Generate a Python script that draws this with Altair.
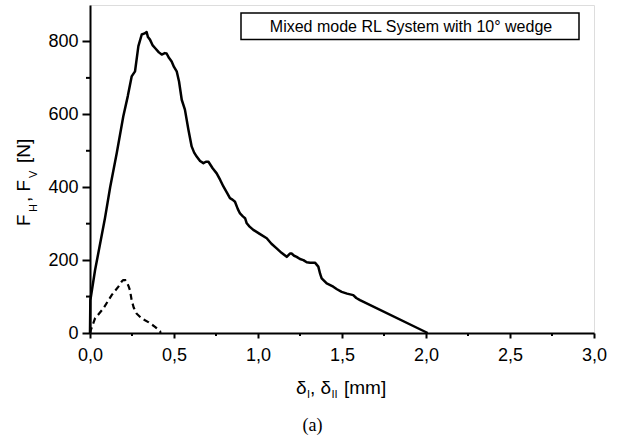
import altair as alt
import pandas as pd

# Solid curve (F_H)
solid_x = [0, 0.002, 0.03, 0.089, 0.12, 0.159, 0.198, 0.225, 0.248, 0.268, 0.288, 0.308, 0.325, 0.337,
           0.345, 0.357, 0.372, 0.387, 0.41, 0.427, 0.445, 0.456, 0.47, 0.486, 0.5, 0.516, 0.53, 0.546,
           0.565, 0.585, 0.605, 0.62, 0.635, 0.655, 0.675, 0.69, 0.705, 0.73, 0.754, 0.775, 0.794, 0.815,
           0.833, 0.848, 0.863, 0.88, 0.893, 0.91, 0.923, 0.933, 0.95, 0.972, 1.01, 1.052, 1.08, 1.111,
           1.14, 1.171, 1.19, 1.2, 1.215, 1.23, 1.25, 1.27, 1.29, 1.31, 1.339, 1.359, 1.37, 1.379, 1.409,
           1.448, 1.47, 1.498, 1.53, 1.567, 1.585, 1.607, 2.01]
solid_y = [0, 90, 172, 315, 400, 493, 594, 650, 704, 718, 787, 819, 822, 826,
           812, 805, 790, 782, 770, 764, 768, 767, 755, 745, 730, 718, 690, 640,
           613, 560, 512, 495, 484, 472, 466, 470, 470, 452, 438, 420, 402, 385,
           370, 366, 360, 340, 328, 320, 315, 301, 292, 283, 272, 260, 245, 232,
           220, 209, 218, 218, 212, 209, 203, 200, 194, 193, 193, 182, 162, 150, 136,
           127, 120, 113, 108, 104, 96, 90, 0]

# Dashed curve (F_V)
dash_x = [0, 0.004, 0.03, 0.079, 0.129, 0.169, 0.19, 0.198, 0.21, 0.218, 0.23, 0.238, 0.248, 0.26,
          0.278, 0.308, 0.347, 0.387, 0.417, 0.42]
dash_y = [0, 7, 40, 67, 104, 127, 142, 145, 145, 140, 128, 117, 90, 70,
          53, 40, 30, 17, 5, 0]

x_major = [0, 0.5, 1.0, 1.5, 2.0, 2.5, 3.0]
x_minor = [0.25, 0.75, 1.25, 1.75, 2.25, 2.75]
y_major = [0, 200, 400, 600, 800]
y_minor = [100, 300, 500, 700]

legend_text = "Mixed mode RL System with 10° wedge"

W, H = 504, 328
xs = alt.Scale(domain=[0, 3], nice=False, zero=False)
ys = alt.Scale(domain=[0, 900], nice=False)

solid_df = pd.DataFrame({"x": solid_x, "y": solid_y})
dash_df = pd.DataFrame({"x": dash_x, "y": dash_y})

x_axis = alt.Axis(values=x_major, labelExpr="replace(format(datum.value, '.1f'), '.', ',')",
                  title=None, grid=False, tickSize=5, labelPadding=8, labelFontSize=18,
                  labelFont="Liberation Sans", labelColor="black", domainColor="black",
                  domainWidth=2, tickColor="black", tickWidth=2, labelFlush=False)
y_axis = alt.Axis(values=y_major, title=None, grid=False, tickSize=8, labelPadding=4,
                  labelFontSize=18, labelFont="Liberation Sans", labelColor="black",
                  domainColor="black", domainWidth=2, tickColor="black", tickWidth=2,
                  labelFlush=False)

solid = alt.Chart(solid_df).mark_line(color="black", strokeWidth=2.5, strokeJoin="round").encode(
    x=alt.X("x:Q", scale=xs, axis=x_axis),
    y=alt.Y("y:Q", scale=ys, axis=y_axis),
)
dashed = alt.Chart(dash_df).mark_line(color="black", strokeWidth=2.2, strokeDash=[6, 4]).encode(
    x=alt.X("x:Q", scale=xs),
    y=alt.Y("y:Q", scale=ys),
)

xminor = alt.Chart(pd.DataFrame({"v": x_minor})).mark_rule(color="black", strokeWidth=2).encode(
    x=alt.X("v:Q", scale=xs),
    y=alt.value(H), y2=alt.value(H + 3),
)
yminor = alt.Chart(pd.DataFrame({"v": y_minor})).mark_rule(color="black", strokeWidth=2).encode(
    y=alt.Y("v:Q", scale=ys),
    x=alt.value(0), x2=alt.value(-4),
)

one = pd.DataFrame({"a": [0]})

box = alt.Chart(one).mark_rect(fill="white", stroke="black", strokeWidth=1.5).encode(
    x=alt.value(151), x2=alt.value(489), y=alt.value(8), y2=alt.value(34.5)
)
legend = alt.Chart(one).mark_text(text=legend_text, font="Liberation Sans", fontSize=16,
                                  align="center", baseline="middle", color="black").encode(
    x=alt.value(321), y=alt.value(22)
)


def piece(txt, x, y, size, angle=0, font="Liberation Sans", align="left"):
    props = dict(text=txt, font=font, fontSize=size, align=align,
                 baseline="alphabetic", color="black")
    if angle:
        props["angle"] = angle
    return alt.Chart(one).mark_text(**props).encode(x=alt.value(x), y=alt.value(y))


# y title: F_H, F_V [N]
ytitle = [
    piece("F", -60, 221, 19, 270),
    piece("H", -53, 207, 11, 270),
    piece(", F", -60, 197, 19, 270),
    piece("V", -53, 173, 11, 270),
    piece("[N]", -60, 158, 19, 270),
]
# x title: δ_I, δ_II [mm]
xtitle = [
    piece("δ", 206, 389, 19),
    piece("I", 217, 393, 11),
    piece(", δ", 220, 389, 19),
    piece("II", 241.5, 393, 11),
    piece("[mm]", 254, 389, 19),
]
caption = piece("(a)", 222.5, 426, 18, font="Liberation Serif", align="center")

chart = alt.layer(
    solid, dashed, xminor, yminor, box, legend, *ytitle, *xtitle, caption
).properties(
    width=W, height=H,
    autosize=alt.AutoSizeParams(type="none"),
    padding={"left": 90, "top": 5, "right": 23, "bottom": 107},
).configure_view(stroke="#777", strokeWidth=1).configure(background="white")

chart.save("out.html", embed_options={"renderer": "svg", "actions": False})
